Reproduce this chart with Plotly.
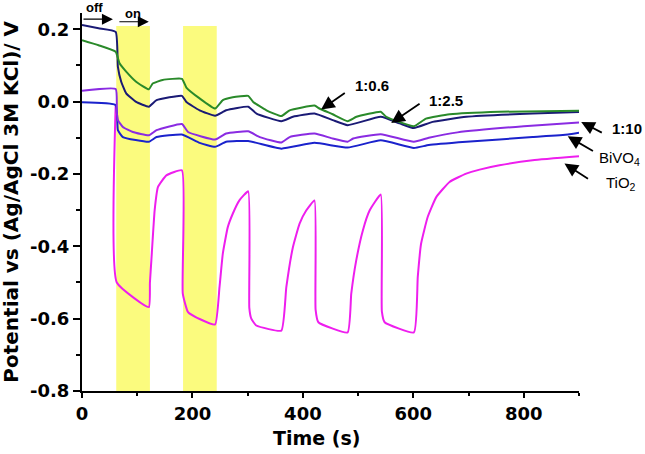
import plotly.graph_objects as go

# ---------------- data ----------------
t_06 = [0, 30, 61, 68, 80, 98, 121, 128, 146, 181, 189, 213, 241, 255, 273, 301, 310, 334, 361, 376, 421,
        430, 454, 481, 497, 541, 551, 601, 623, 666, 756, 900]
v_06 = [0.170, 0.156, 0.138, 0.106, 0.083, 0.055, 0.034, 0.050, 0.060, 0.063, 0.039, 0.009, -0.019, 0.004,
        0.012, 0.016, -0.001, -0.024, -0.040, -0.024, -0.011, -0.019, -0.035, -0.054, -0.042, -0.028, -0.042,
        -0.068, -0.047, -0.035, -0.028, -0.025]

t_25 = [0, 30, 61, 65, 71, 80, 98, 121, 135, 181, 189, 213, 241, 261, 301, 316, 361, 382, 421, 454, 481,
        541, 575, 601, 635, 696, 816, 900]
v_25 = [0.212, 0.203, 0.193, 0.096, 0.055, 0.023, -0.001, -0.014, 0.004, 0.016, -0.001, -0.024, -0.039,
        -0.024, -0.014, -0.033, -0.054, -0.042, -0.033, -0.051, -0.065, -0.042, -0.060, -0.073, -0.056,
        -0.042, -0.033, -0.029]

t_10 = [0, 61, 63, 65, 74, 92, 121, 135, 181, 192, 241, 261, 301, 322, 361, 376, 421, 454, 481, 491, 541,
        601, 628, 680, 800, 900]
v_10 = [0.030, 0.035, -0.030, -0.051, -0.070, -0.084, -0.093, -0.079, -0.062, -0.084, -0.105, -0.088,
        -0.082, -0.098, -0.113, -0.098, -0.088, -0.102, -0.111, -0.102, -0.090, -0.111, -0.100, -0.085,
        -0.068, -0.058]

t_bi = [0, 61, 65, 74, 121, 135, 181, 213, 241, 261, 301, 361, 421, 481, 541, 601, 628, 696, 816, 880, 900]
v_bi = [-0.002, -0.010, -0.079, -0.098, -0.111, -0.098, -0.091, -0.114, -0.125, -0.111, -0.109, -0.130,
        -0.114, -0.127, -0.107, -0.128, -0.120, -0.111, -0.098, -0.091, -0.086]

t_ti = [61, 63, 121, 123, 125.6, 131.6, 137.6, 152.8, 181, 182.5, 192, 213, 241, 249, 255, 264, 273, 285,
        301, 303, 306.6, 315.6, 361, 370, 382, 394, 406, 421, 423, 428, 481, 487.6, 496.6, 508.6, 520.8, 541,
        543, 548, 601, 608, 614, 626, 641.5, 665.6, 695.7, 720, 756, 816, 900]
v_ti = [-0.010, -0.500, -0.568, -0.500, -0.439, -0.300, -0.236, -0.204, -0.190, -0.531, -0.582, -0.601,
        -0.616, -0.513, -0.420, -0.347, -0.310, -0.273, -0.248, -0.570, -0.600, -0.619, -0.633, -0.513,
        -0.402, -0.337, -0.301, -0.273, -0.575, -0.610, -0.638, -0.531, -0.439, -0.356, -0.301, -0.257,
        -0.580, -0.610, -0.638, -0.485, -0.393, -0.319, -0.264, -0.222, -0.199, -0.188, -0.176, -0.162,
        -0.151]

light_on = [(62, 123), (183, 244)]

x_tickvals = [0, 200, 400, 600, 800]
x_ticktext = ["0", "200", "400", "600", "800"]
y_tickvals = [-0.8, -0.6, -0.4, -0.2, 0.0, 0.2]
y_ticktext = ["-0.8", "-0.6", "-0.4", "-0.2", "0.0", "0.2"]

X_RANGE = [0, 900]
Y_RANGE = [-0.8, 0.245]

# ---------------- figure ----------------
fig = go.Figure()

series = [
    (t_ti, v_ti, "#ee1eee", "TiO2"),
    (t_bi, v_bi, "#1a22cc", "BiVO4"),
    (t_10, v_10, "#8a2be2", "1:10"),
    (t_25, v_25, "#1a1a75", "1:2.5"),
    (t_06, v_06, "#2a8a2a", "1:0.6"),
]
for tx, vy, col, name in series:
    fig.add_trace(go.Scatter(x=tx, y=vy, mode="lines", name=name,
                             line=dict(color=col, width=2, shape="spline", smoothing=0.4),
                             showlegend=False))

for x0, x1 in light_on:
    fig.add_shape(type="rect", xref="x", yref="y", x0=x0, x1=x1, y0=-0.8, y1=0.209,
                  fillcolor="#fbfb7e", line=dict(width=0), layer="below")

font_ann = "Liberation Sans, Arial, sans-serif"
ann = []


def px(x):
    return (x - X_RANGE[0]) / (X_RANGE[1] - X_RANGE[0])


def py(y):
    return (y - Y_RANGE[0]) / (Y_RANGE[1] - Y_RANGE[0])


def arrow(hx, hy, tx, ty, w=1.8, s=1.5):
    ann.append(dict(x=px(hx), y=py(hy), ax=px(tx), ay=py(ty), xref="x domain", yref="y domain",
                    axref="x domain", ayref="y domain",
                    text="", showarrow=True, arrowhead=2, arrowsize=s, arrowwidth=w,
                    arrowcolor="black", standoff=0, startstandoff=0))


def label(x, y, txt, bold=True, size=14, xanchor="center"):
    ann.append(dict(x=px(x), y=py(y), xref="x domain", yref="y domain",
                    text=("<b>%s</b>" % txt) if bold else txt,
                    showarrow=False, xanchor=xanchor, yanchor="middle",
                    font=dict(family=font_ann, size=size, color="black")))


# off / on
arrow(56, 0.228, 0, 0.228, w=1.1, s=2.0)
arrow(121, 0.221, 65, 0.221, w=1.1, s=2.0)
label(22, 0.259, "off", size=13)
label(92, 0.245, "on", size=13)

# series labels
arrow(433, -0.022, 478.6, 0.027)
label(525, 0.045, "1:0.6", size=15)
arrow(560, -0.059, 614, -0.003)
label(659.5, 0.004, "1:2.5", size=15)
arrow(904, -0.056, 944, -0.088)
label(987, -0.073, "1:10", size=15)
arrow(879.6, -0.096, 928, -0.139)
label(933, -0.157, "BiVO<sub>4</sub>", bold=False, size=15, xanchor="left")
arrow(873.7, -0.171, 919, -0.216)
label(946, -0.226, "TiO<sub>2</sub>", bold=False, size=15, xanchor="left")

# axis titles
ann.append(dict(x=0.472, y=-0.125, xref="paper", yref="paper", text="<b>Time (s)</b>",
                showarrow=False, xanchor="center", yanchor="middle",
                font=dict(family="DejaVu Sans", size=19, color="black")))
ann.append(dict(x=-0.1435, y=0.5, xref="paper", yref="paper",
                text="<b>Potential vs (Ag/AgCl 3M KCl)/ V</b>", textangle=-90,
                showarrow=False, xanchor="center", yanchor="middle",
                font=dict(family="DejaVu Sans", size=20, color="black")))

fig.update_layout(
    width=645, height=454,
    margin=dict(l=82, r=66, t=13, b=63),
    paper_bgcolor="white", plot_bgcolor="white",
    annotations=ann,
    font=dict(family="DejaVu Sans", color="black"),
)
fig.update_xaxes(range=X_RANGE, showgrid=False, zeroline=False, showline=True,
                 linecolor="black", linewidth=2, ticks="outside", ticklen=5, tickwidth=1.5,
                 tickcolor="black", tickvals=x_tickvals, ticktext=x_ticktext,
                 tickfont=dict(family="DejaVu Sans", size=18, color="black", weight="bold"),
                 minor=dict(ticks="outside", ticklen=3, tickwidth=1.5, tickcolor="black",
                            dtick=100, tick0=0, showgrid=False))
fig.update_yaxes(range=Y_RANGE, showgrid=False, zeroline=False, showline=True,
                 linecolor="black", linewidth=2, ticks="outside", ticklen=7, tickwidth=1.5,
                 tickcolor="black", tickvals=y_tickvals, ticktext=y_ticktext,
                 tickfont=dict(family="DejaVu Sans", size=18, color="black", weight="bold"),
                 minor=dict(ticks="outside", ticklen=4, tickwidth=1.5, tickcolor="black",
                            dtick=0.1, tick0=0, showgrid=False))

# remove the page's default body margin so the 645x454 figure fills the window exactly
fig.write_html("out.html", config={"displayModeBar": False},
               post_script="document.body.style.margin='0';document.body.style.overflow='hidden';")
